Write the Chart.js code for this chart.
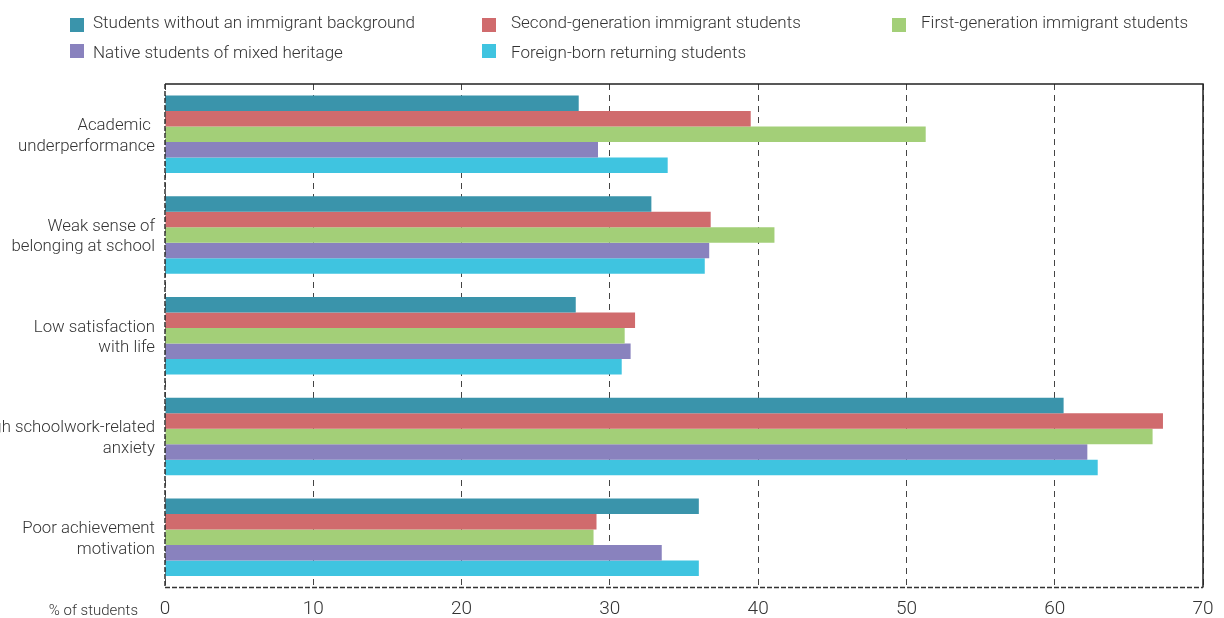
<!DOCTYPE html>
<html>
<head>
<meta charset="utf-8">
<script src="https://cdn.jsdelivr.net/npm/chart.js@4/dist/chart.umd.min.js"></script>
<style>
  html, body { margin: 0; padding: 0; background: #fff; }
  #wrap { position: relative; width: 1224px; height: 618px; }
  #chart { position: absolute; left: 0; top: 0; }
  .lg { position: absolute; font-family: Roboto, 'Liberation Sans', sans-serif; font-weight: 300; font-size: 17px; color: #333; white-space: nowrap; line-height: 20px; }
  .bx { position: absolute; width: 14px; height: 14px; }
</style>
</head>
<body>
<div id="wrap">
  <canvas id="chart" width="1224" height="618"></canvas>
  <div id="legend"></div>
</div>
<script>
const categories = [
  ['Academic ', 'underperformance'],
  ['Weak sense of', 'belonging at school'],
  ['Low satisfaction', 'with life'],
  ['High schoolwork-related', 'anxiety'],
  ['Poor achievement', 'motivation']
];
const seriesNames = [
  'Students without an immigrant background',
  'Second-generation immigrant students',
  'First-generation immigrant students',
  'Native students of mixed heritage',
  'Foreign-born returning students'
];
const noImmigrant   = [27.9, 32.8, 27.7, 60.6, 36.0];
const secondGen     = [39.5, 36.8, 31.7, 67.3, 29.1];
const firstGen      = [51.3, 41.1, 31.0, 66.6, 28.9];
const mixedHeritage = [29.2, 36.7, 31.4, 62.2, 33.5];
const returning     = [33.9, 36.4, 30.8, 62.9, 36.0];
const xTicks = [0, 10, 20, 30, 40, 50, 60, 70];
const axisUnitLabel = '% of students';

const colors = ['#3a94ab', '#d06b6d', '#a3cf78', '#8982be', '#3fc4e0'];
const seriesValues = [noImmigrant, secondGen, firstGen, mixedHeritage, returning];

// HTML legend (3 columns, row-major order)
const legendPos = [
  {bx: 70, tx: 93, y: 18, ty: 12}, {bx: 482, tx: 511, y: 18, ty: 12}, {bx: 892, tx: 921, y: 18, ty: 12},
  {bx: 70, tx: 93, y: 44, ty: 42}, {bx: 482, tx: 511, y: 44, ty: 42}
];
const legend = document.getElementById('legend');
seriesNames.forEach((name, i) => {
  const p = legendPos[i];
  const b = document.createElement('div');
  b.className = 'bx'; b.style.left = p.bx + 'px'; b.style.top = p.y + 'px'; b.style.background = colors[i];
  const t = document.createElement('div');
  t.className = 'lg'; t.style.left = p.tx + 'px'; t.style.top = p.ty + 'px'; t.textContent = name;
  legend.appendChild(b); legend.appendChild(t);
});

const frame = {
  id: 'frame',
  afterDraw(chart) {
    const {ctx, chartArea: a} = chart;
    ctx.save();
    ctx.strokeStyle = '#222';
    ctx.lineWidth = 1.5;
    ctx.beginPath();
    ctx.moveTo(a.left, a.top); ctx.lineTo(a.right, a.top); ctx.lineTo(a.right, a.bottom);
    ctx.stroke();
    ctx.setLineDash([5, 2]);
    ctx.strokeStyle = '#333';
    ctx.beginPath();
    ctx.moveTo(a.left, a.bottom); ctx.lineTo(a.right, a.bottom);
    ctx.moveTo(a.left, a.top); ctx.lineTo(a.left, a.bottom);
    ctx.stroke();
    ctx.setLineDash([]);
    ctx.fillStyle = '#333';
    ctx.font = '300 15px Roboto, "Liberation Sans", sans-serif';
    ctx.textAlign = 'right';
    ctx.textBaseline = 'middle';
    ctx.fillText(axisUnitLabel, 138, 611);
    ctx.restore();
  }
};

new Chart(document.getElementById('chart'), {
  type: 'bar',
  data: {
    labels: categories,
    datasets: seriesNames.map((n, i) => ({
      label: n,
      data: seriesValues[i],
      backgroundColor: colors[i],
      borderWidth: 0,
      barPercentage: 1.0,
      categoryPercentage: 0.77
    }))
  },
  options: {
    indexAxis: 'y',
    responsive: false,
    animation: false,
    layout: { padding: { top: 84, right: 21, left: 0, bottom: 0 } },
    plugins: { legend: { display: false }, tooltip: { enabled: false } },
    scales: {
      x: {
        min: 0, max: 70,
        afterBuildTicks(s) { s.ticks = xTicks.map(v => ({ value: v })); },
        afterFit(s) { s.height = 27; },
        ticks: { color: '#333', padding: 10, font: { family: 'Roboto, "Liberation Sans", sans-serif', size: 19, weight: 300 } },
        grid: { color: '#444', lineWidth: 1, drawTicks: false },
        border: { display: false, dash: [6, 5] }
      },
      y: {
        afterFit(s) { s.width = 165; },
        ticks: { color: '#333', padding: 10, labelOffset: 2, font: { family: 'Roboto, "Liberation Sans", sans-serif', size: 16.8, weight: 300, lineHeight: 1.22 } },
        grid: { display: false, drawTicks: false },
        border: { display: false }
      }
    }
  },
  plugins: [frame]
});
</script>
</body>
</html>
